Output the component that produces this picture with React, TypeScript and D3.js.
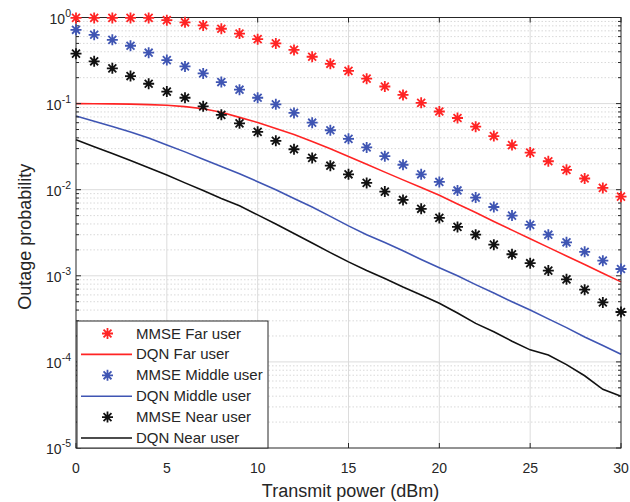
import * as d3 from "d3";
import { useEffect, useRef } from "react";

// transmit power grid (dBm)
const powerDbm = [
  0, 1, 2, 3, 4, 5, 6, 7, 8, 9, 10, 11, 12, 13, 14, 15, 16, 17, 18, 19, 20,
  21, 22, 23, 24, 25, 26, 27, 28, 29, 30,
];

// MMSE (markers)
const mmseFar = [
  0.99, 0.99, 0.99, 0.99, 0.99, 0.93, 0.88, 0.81, 0.74, 0.65, 0.56, 0.5, 0.42,
  0.35, 0.29, 0.24, 0.195, 0.158, 0.126, 0.102, 0.081, 0.068, 0.054, 0.042,
  0.033, 0.027, 0.0214, 0.017, 0.0135, 0.0105, 0.0083,
];
const mmseMiddle = [
  0.72, 0.63, 0.55, 0.47, 0.39, 0.32, 0.27, 0.224, 0.178, 0.145, 0.117, 0.098,
  0.078, 0.06, 0.049, 0.039, 0.031, 0.0245, 0.0195, 0.0151, 0.0123, 0.0098,
  0.0081, 0.0063, 0.005, 0.0039, 0.003, 0.00245, 0.0019, 0.0015, 0.0012,
];
const mmseNear = [
  0.38, 0.31, 0.257, 0.209, 0.17, 0.138, 0.117, 0.093, 0.074, 0.059, 0.047,
  0.037, 0.0295, 0.0234, 0.019, 0.0151, 0.012, 0.0095, 0.0076, 0.006, 0.0047,
  0.0037, 0.003, 0.0023, 0.00178, 0.0014, 0.00115, 0.00091, 0.00069, 0.00049,
  0.00038,
];

// DQN (lines)
const dqnFar = [
  0.1, 0.0998, 0.0993, 0.0986, 0.0973, 0.0955, 0.0923, 0.0871, 0.0794, 0.0692,
  0.0603, 0.0513, 0.0437, 0.0363, 0.0299, 0.0243, 0.0197, 0.016, 0.013, 0.0106,
  0.0086, 0.00684, 0.00543, 0.00427, 0.00339, 0.00269, 0.00214, 0.0017,
  0.00135, 0.00107, 0.00085,
];
const dqnMiddle = [
  0.0716, 0.0624, 0.0543, 0.0468, 0.0398, 0.0331, 0.0275, 0.0226, 0.0186,
  0.0153, 0.0124, 0.01, 0.0079, 0.0063, 0.0049, 0.0038, 0.003, 0.00243,
  0.00195, 0.00155, 0.00124, 0.001, 0.00079, 0.00063, 0.0005, 0.0004, 0.000316,
  0.00025, 0.000195, 0.000155, 0.000123,
];
const dqnNear = [
  0.038, 0.0316, 0.0263, 0.0219, 0.018, 0.0148, 0.012, 0.0098, 0.0079, 0.0065,
  0.0051, 0.004, 0.0031, 0.0024, 0.00186, 0.00145, 0.00115, 0.00093, 0.00074,
  0.0006, 0.00048, 0.00037, 0.00028, 0.000224, 0.000174, 0.000138, 0.00012,
  0.000093, 0.000069, 0.000048, 0.00004,
];

const xTicks = [0, 5, 10, 15, 20, 25, 30];
const yExponents = [0, -1, -2, -3, -4, -5];

const RED = "#ff2424";
const BLUE = "#3f55b3";
const BLACK = "#111111";
const AXIS = "#262626";

const series = [
  { name: "MMSE Far user", values: mmseFar, color: RED, kind: "star" },
  { name: "DQN Far user", values: dqnFar, color: RED, kind: "line" },
  { name: "MMSE Middle user", values: mmseMiddle, color: BLUE, kind: "star" },
  { name: "DQN Middle user", values: dqnMiddle, color: BLUE, kind: "line" },
  { name: "MMSE Near user", values: mmseNear, color: BLACK, kind: "star" },
  { name: "DQN Near user", values: dqnNear, color: BLACK, kind: "line" },
];

const WIDTH = 630;
const HEIGHT = 502;
const margin = { top: 17.5, right: 9, bottom: 54, left: 76 };
const FONT = "'Liberation Sans', Arial, Helvetica, sans-serif";

const starPath = (r: number) => {
  const d = r * 0.72;
  return `M${-r},0L${r},0M0,${-r}L0,${r}M${-d},${-d}L${d},${d}M${-d},${d}L${d},${-d}`;
};

const App = () => {
  const svgRef = useRef<SVGSVGElement>(null);

  useEffect(() => {
    const svg = d3.select(svgRef.current);
    svg.selectAll("*").remove();

    const innerW = WIDTH - margin.left - margin.right;
    const innerH = HEIGHT - margin.top - margin.bottom;

    const x = d3.scaleLinear().domain([0, 30]).range([0, innerW]);
    const y = d3.scaleLog().domain([1e-5, 1]).range([innerH, 0]);

    svg.append("rect").attr("width", WIDTH).attr("height", HEIGHT).attr("fill", "white");

    const g = svg
      .append("g")
      .attr("transform", `translate(${margin.left},${margin.top})`);

    // minor y grid (dotted)
    const minorVals: number[] = [];
    yExponents.slice(1).forEach((e) => {
      for (let k = 2; k <= 9; k++) minorVals.push(k * Math.pow(10, e));
    });
    g.append("g")
      .selectAll("line")
      .data(minorVals)
      .join("line")
      .attr("x1", 0)
      .attr("x2", innerW)
      .attr("y1", (d) => y(d))
      .attr("y2", (d) => y(d))
      .attr("stroke", "#cfcfcf")
      .attr("stroke-width", 0.8)
      .attr("stroke-dasharray", "1.5,2");

    // major grid
    g.append("g")
      .selectAll("line")
      .data(yExponents.slice(1, -1))
      .join("line")
      .attr("x1", 0)
      .attr("x2", innerW)
      .attr("y1", (e) => y(Math.pow(10, e)))
      .attr("y2", (e) => y(Math.pow(10, e)))
      .attr("stroke", "#dcdcdc")
      .attr("stroke-width", 1);
    g.append("g")
      .selectAll("line")
      .data(xTicks.slice(1, -1))
      .join("line")
      .attr("x1", (d) => x(d))
      .attr("x2", (d) => x(d))
      .attr("y1", 0)
      .attr("y2", innerH)
      .attr("stroke", "#dcdcdc")
      .attr("stroke-width", 1);

    // lines
    const line = d3
      .line<number>()
      .x((_, i) => x(powerDbm[i]))
      .y((d) => y(d));
    series
      .filter((s) => s.kind === "line")
      .forEach((s) => {
        g.append("path")
          .datum(s.values)
          .attr("fill", "none")
          .attr("stroke", s.color)
          .attr("stroke-width", 1.6)
          .attr("d", line);
      });

    // axes box and ticks
    const axes = g.append("g").attr("stroke", AXIS).attr("fill", "none");
    axes
      .append("rect")
      .attr("width", innerW)
      .attr("height", innerH)
      .attr("stroke-width", 1);
    xTicks.forEach((t) => {
      axes.append("line").attr("x1", x(t)).attr("x2", x(t)).attr("y1", innerH).attr("y2", innerH - 5);
      axes.append("line").attr("x1", x(t)).attr("x2", x(t)).attr("y1", 0).attr("y2", 5);
    });
    yExponents.forEach((e) => {
      const yy = y(Math.pow(10, e));
      axes.append("line").attr("x1", 0).attr("x2", 5).attr("y1", yy).attr("y2", yy);
      axes.append("line").attr("x1", innerW).attr("x2", innerW - 5).attr("y1", yy).attr("y2", yy);
    });
    minorVals.forEach((v) => {
      axes.append("line").attr("x1", 0).attr("x2", 3).attr("y1", y(v)).attr("y2", y(v));
      axes.append("line").attr("x1", innerW).attr("x2", innerW - 3).attr("y1", y(v)).attr("y2", y(v));
    });

    // stars (drawn over axes like MATLAB)
    series
      .filter((s) => s.kind === "star")
      .forEach((s) => {
        g.append("g")
          .selectAll("path")
          .data(s.values)
          .join("path")
          .attr("transform", (d, i) => `translate(${x(powerDbm[i])},${y(d)})`)
          .attr("d", starPath(5.5))
          .attr("stroke", s.color)
          .attr("stroke-width", 1.8)
          .attr("fill", "none");
      });

    // tick labels
    g.append("g")
      .selectAll("text")
      .data(xTicks)
      .join("text")
      .attr("x", (d) => x(d))
      .attr("y", innerH + 25)
      .attr("text-anchor", "middle")
      .attr("font-family", FONT)
      .attr("font-size", 14)
      .attr("fill", AXIS)
      .text((d) => d);

    yExponents.forEach((e) => {
      const t = g
        .append("text")
        .attr("x", -5)
        .attr("y", y(Math.pow(10, e)) + 6)
        .attr("text-anchor", "end")
        .attr("font-family", FONT)
        .attr("font-size", 14)
        .attr("fill", AXIS);
      t.append("tspan").text("10");
      t.append("tspan").attr("dy", -7).attr("font-size", 10.5).text(String(e));
    });

    // axis titles
    g.append("text")
      .attr("x", innerW / 2 + 2)
      .attr("y", innerH + 49)
      .attr("text-anchor", "middle")
      .attr("font-family", FONT)
      .attr("font-size", 18)
      .attr("fill", AXIS)
      .text("Transmit power (dBm)");
    g.append("text")
      .attr("transform", `translate(${-45},${innerH / 2 + 4}) rotate(-90)`)
      .attr("text-anchor", "middle")
      .attr("font-family", FONT)
      .attr("font-size", 18)
      .attr("fill", AXIS)
      .text("Outage probability");

    // legend
    const lg = g.append("g").attr("transform", `translate(1,${innerH - 127})`);
    lg.append("rect")
      .attr("width", 191)
      .attr("height", 127)
      .attr("fill", "white")
      .attr("stroke", AXIS)
      .attr("stroke-width", 1);
    series.forEach((s, i) => {
      const yy = 12.5 + i * 20.9;
      if (s.kind === "line") {
        lg.append("line")
          .attr("x1", 4)
          .attr("x2", 55)
          .attr("y1", yy)
          .attr("y2", yy)
          .attr("stroke", s.color)
          .attr("stroke-width", 1.6);
      } else {
        lg.append("path")
          .attr("transform", `translate(30.5,${yy})`)
          .attr("d", starPath(5.5))
          .attr("stroke", s.color)
          .attr("stroke-width", 1.8)
          .attr("fill", "none");
      }
      lg.append("text")
        .attr("x", 59)
        .attr("y", yy + 5)
        .attr("font-family", FONT)
        .attr("font-size", 15)
        .attr("fill", AXIS)
        .text(s.name);
    });
  }, []);

  return (
    <svg
      ref={svgRef}
      width={WIDTH}
      height={HEIGHT}
      style={{ position: "absolute", left: 0, top: 0 }}
    ></svg>
  );
};

export default App;
